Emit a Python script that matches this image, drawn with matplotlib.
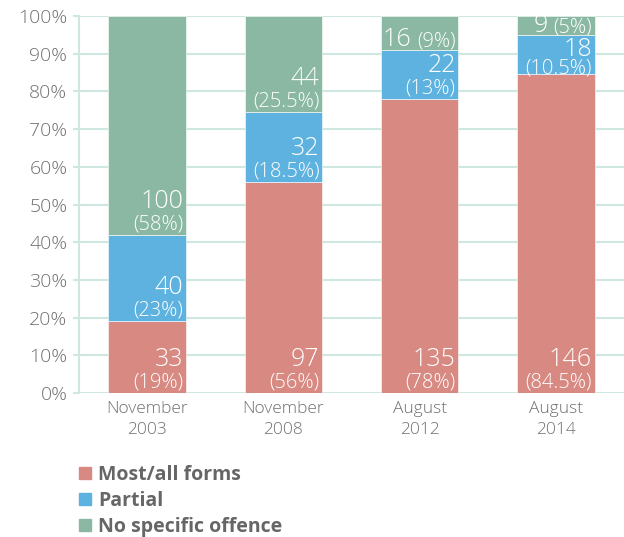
import matplotlib
matplotlib.use('Agg')
import matplotlib.pyplot as plt
import matplotlib.patches as mpatches

## Data
PERIODS = ['November\n2003', 'November\n2008', 'August\n2012', 'August\n2014']
MOST_ALL_COUNT = [33, 97, 135, 146]
MOST_ALL_PCT = [19, 56, 78, 84.5]
PARTIAL_COUNT = [40, 32, 22, 18]
PARTIAL_PCT = [23, 18.5, 13, 10.5]
NO_OFFENCE_COUNT = [100, 44, 16, 9]
NO_OFFENCE_PCT = [58, 25.5, 9, 5]
SERIES_LABELS = ['Most/all forms', 'Partial', 'No specific offence']

## Style
RED = '#d78982'
BLUE = '#5eb2e0'
GREEN = '#8ab8a2'
GRID = '#cfe8df'
TICK_GRAY = '#707070'
LEGEND_GRAY = '#666666'
plt.rcParams['font.family'] = ['Open Sans', 'DejaVu Sans']

fig = plt.figure(figsize=(6.24, 5.37), dpi=100)
ax = fig.add_axes([79 / 624, 1 - 393 / 537, 1 - 79 / 624, 377 / 537])

width = 0.57
xs = list(range(len(PERIODS)))
series = [
  (MOST_ALL_COUNT, MOST_ALL_PCT, RED),
  (PARTIAL_COUNT, PARTIAL_PCT, BLUE),
  (NO_OFFENCE_COUNT, NO_OFFENCE_PCT, GREEN),
]

label_kw = dict(textcoords='offset points', ha='right', va='baseline', color='white',
                fontweight='light', zorder=3)

bottoms = [0.0] * len(PERIODS)
handles = []
for (counts, pcts, color), label in zip(series, SERIES_LABELS):
  ax.bar(xs, pcts, width, bottom=bottoms, color=color, edgecolor='white', linewidth=0.4, zorder=2)
  handles.append(mpatches.Patch(color=color, label=label))
  for i, (cnt, pct) in enumerate(zip(counts, pcts)):
    x_r = i + width / 2
    y0 = bottoms[i]
    if pct < 10:
      ## Thin segment: one line, "16 (9%)"
      dy = 2 if pct < 6 else 2.5
      small = ax.annotate(f'({pct:g}%)', xy=(x_r, y0), xytext=(-2, dy), fontsize=14.5, **label_kw)
      ax.annotate(str(cnt), xy=(0, y0), xycoords=(small, 'data'), xytext=(-4, dy), fontsize=18, **label_kw)
    else:
      ## Two lines, tighter when the segment is short
      dy_small, dy_big = (0.5, 13.5) if pct < 12 else (4, 19.5)
      ax.annotate(f'({pct:g}%)', xy=(x_r, y0), xytext=(-2, dy_small), fontsize=14.5, **label_kw)
      ax.annotate(str(cnt), xy=(x_r, y0), xytext=(-2, dy_big), fontsize=18, **label_kw)
    bottoms[i] += pct

## Axes
ax.set_xlim(-0.5, 3.5)
ax.set_ylim(0, 100)
ax.set_yticks(range(0, 101, 10))
ax.set_yticklabels([f'{v}%' for v in range(0, 101, 10)], fontweight='light')
ax.set_xticks(xs)
ax.set_xticklabels(PERIODS, linespacing=1.35, fontweight='light')
ax.yaxis.grid(True, color=GRID, linewidth=1.5, zorder=0)
ax.set_axisbelow(True)
for side in ['top', 'right', 'bottom']:
  ax.spines[side].set_visible(False)
ax.spines['left'].set_color(GRID)
ax.spines['left'].set_linewidth(1.5)
ax.tick_params(axis='y', length=4.3, width=1.5, color=GRID, pad=4, labelsize=14, labelcolor=TICK_GRAY)
ax.tick_params(axis='x', length=0, pad=6, labelsize=12.5, labelcolor=TICK_GRAY)

## Legend
leg = fig.legend(handles=handles, loc='upper left', bbox_to_anchor=(79 / 624, 1 - 465 / 537),
                 frameon=False, borderpad=0, borderaxespad=0, handlelength=0.62, handleheight=0.62,
                 handletextpad=0.36, labelspacing=0.3, prop={'size': 14, 'weight': 'bold'})
for t in leg.get_texts():
  t.set_color(LEGEND_GRAY)

fig.savefig('out.png', dpi=100)
